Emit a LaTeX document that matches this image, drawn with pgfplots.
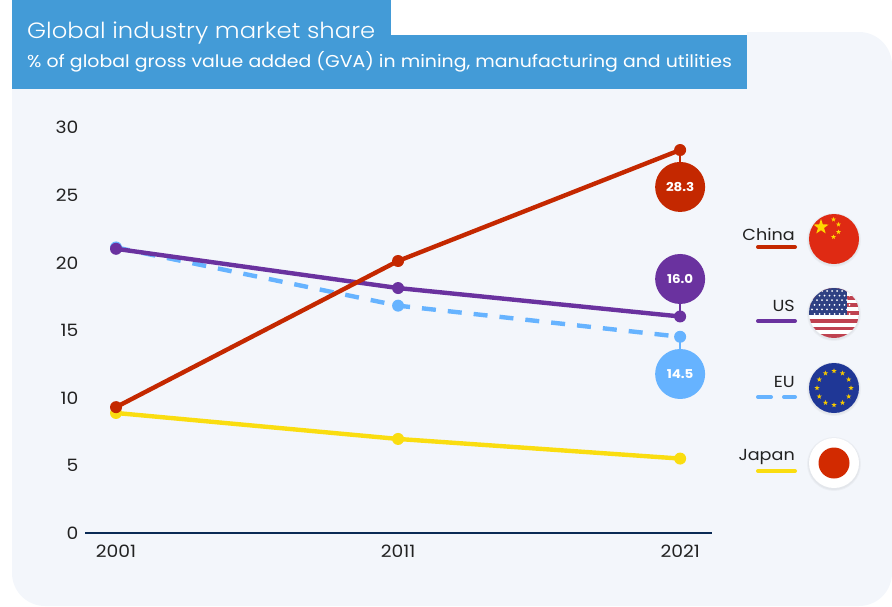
\documentclass[border=0pt]{standalone}
\usepackage{pgfplots}
\pgfplotsset{compat=1.18}
\usepackage{fontspec}
\setmainfont[FakeStretch=1.1]{Poppins}
\newfontfamily\lightf[FakeStretch=1.1]{Poppins Light}
\usetikzlibrary{shapes.geometric}
\pgfdeclareplotmark{fc}{\pgfpathcircle{\pgfpoint{0pt}{0pt}}{\pgfplotmarksize}\pgfusepathqfill}
\definecolor{panel}{HTML}{F3F6FB}
\definecolor{head}{HTML}{439BD7}
\definecolor{cnred}{HTML}{C42800}
\definecolor{uspur}{HTML}{6A329F}
\definecolor{eublu}{HTML}{66B3FF}
\definecolor{jpyel}{HTML}{FADD10}
\definecolor{axisnavy}{HTML}{0A2A55}
\definecolor{txt}{HTML}{222222}
\definecolor{cnflag}{HTML}{DF2A13}
\definecolor{cnstar}{HTML}{FFD800}
\definecolor{usred}{HTML}{BF4250}
\definecolor{usblue}{HTML}{2F4183}
\definecolor{eubg}{HTML}{1F3796}
\definecolor{eustar}{HTML}{F5C800}
\definecolor{jpred}{HTML}{D22A00}
\begin{document}
\begin{tikzpicture}
\useasboundingbox (0pt,0pt) rectangle (892pt,-606pt);
\begin{scope}[x=1pt,y=-1pt]
\fill[panel,rounded corners=33pt] (12,32) rectangle (892,606);
\fill[panel] (12,32) rectangle (100,100);
\fill[white] (391,32) rectangle (747,35);
\fill[head] (12,0) rectangle (391,36);
\fill[head] (12,35) rectangle (747,89);
\node[anchor=base west,inner sep=0,text=white] at (27,38) {\fontsize{22.1}{26}\selectfont\lightf Global industry market share};
\node[anchor=base west,inner sep=0,text=white] at (27,67) {\fontsize{17.2}{20}\selectfont \% of global gross value added (GVA) in mining, manufacturing and utilities};
\end{scope}
\begin{axis}[
  at={(85pt,-533pt)}, anchor=origin,
  scale only axis, width=627pt, height=406pt,
  xmin=1999.9, xmax=2022.13, ymin=0, ymax=30,
  axis x line*=bottom, axis y line*=left,
  x axis line style={draw=axisnavy,line width=2pt,-},
  y axis line style={draw=none,-},
  major tick length=0pt,
  xtick={2001,2011,2021}, xticklabels={2001,2011,2021},
  ytick={0,5,10,15,20,25,30},
  /pgf/number format/assume math mode=true,
  tick label style={font=\fontsize{17}{18}\selectfont,text=txt},
  xticklabel style={yshift=-8pt},
  yticklabel style={xshift=-3pt,yshift=-0.5pt},
  clip=false,
  every node near coord/.style={anchor=center,text=white,inner sep=0pt,yshift=-0.5pt,font=\fontsize{12.2}{14}\selectfont\bfseries},
]
\addplot[line width=4.4pt,jpyel,mark=fc,mark size=6pt,mark options={solid}] coordinates {(2001,8.87)(2011,6.95)(2021,5.5)};
\addplot[line width=4.4pt,eublu,dash pattern=on 14pt off 12pt,mark=fc,mark size=6pt,mark options={solid}] coordinates {(2001,21.1)(2011,16.8)(2021,14.5)};
\addplot[line width=4.4pt,uspur,mark=fc,mark size=6pt,mark options={solid}] coordinates {(2001,21.0)(2011,18.1)(2021,16.0)};
\addplot[line width=4.4pt,cnred,mark=fc,mark size=6pt,mark options={solid}] coordinates {(2001,9.3)(2011,20.1)(2021,28.3)};
% connectors and value bubbles
\addplot[line width=2pt,cnred] coordinates {(2021,28.3)(2021,25.57)};
\addplot[line width=2pt,uspur] coordinates {(2021,16.0)(2021,18.77)};
\addplot[line width=2pt,eublu] coordinates {(2021,14.5)(2021,11.75)};
\addplot[cnred,only marks,mark=fc,mark size=25pt,nodes near coords={28.3}] coordinates {(2021,25.57)};
\addplot[uspur,only marks,mark=fc,mark size=25pt,nodes near coords={16.0}] coordinates {(2021,18.77)};
\addplot[eublu,only marks,mark=fc,mark size=25pt,nodes near coords={14.5}] coordinates {(2021,11.75)};
\end{axis}
\begin{scope}[x=1pt,y=-1pt]
\foreach \yy/\name in {234/China,306/US,382/EU,457/Japan}{
  \node[anchor=east,inner sep=0,text=txt] at (795,\yy) {\fontsize{16}{18}\selectfont \name};
}
\draw[line width=4pt,cnred,line cap=round] (758,247) -- (795,247);
\draw[line width=4pt,uspur,line cap=round] (758,321) -- (795,321);
\draw[line width=4pt,eublu,line cap=round] (758,397) -- (771,397) (784,397) -- (795,397);
\draw[line width=4pt,jpyel,line cap=round] (758,471) -- (795,471);
\foreach \yy in {239,313,388,463}{
  \fill[black,opacity=0.03] (834,\yy+1) circle (27);
  \fill[black,opacity=0.03] (834,\yy+1) circle (26);
}
\fill[cnflag] (834,239) circle (25);
\tikzset{flagstar/.style={star,star points=5,star point ratio=2.5,fill=#1,draw=none,inner sep=0pt,anchor=center}}
\node[flagstar=cnstar,minimum size=16pt] at (821,227) {};
\foreach \a/\b in {833.5/219.5,838.5/224.5,838.5/232,833.5/237}{
  \node[flagstar=cnstar,minimum size=5pt] at (\a,\b) {};
}
\begin{scope}
\clip (834,313) circle (25);
\fill[white] (809,288) rectangle (859,338);
\foreach \i in {0,2,...,12}{
  \fill[usred] (809,{288+\i*3.85}) rectangle (859,{288+\i*3.85+3.85});
}
\fill[usblue] (809,288) rectangle (847,315);
\foreach \r in {0,...,5}{
  \foreach \c in {0,...,7}{
    \fill[white] ({812+\c*5+mod(\r,2)*2.5},{291+\r*4.6}) circle (1);
  }
}
\end{scope}
\fill[eubg] (834,388) circle (25);
\foreach \k in {0,30,...,330}{
  \node[flagstar=eustar,minimum size=5.5pt] at ({834+17*cos(\k)},{388+17*sin(\k)}) {};
}
\fill[white] (834,463) circle (25);
\fill[jpred] (834,463) circle (15.5);
\end{scope}
\end{tikzpicture}
\end{document}
